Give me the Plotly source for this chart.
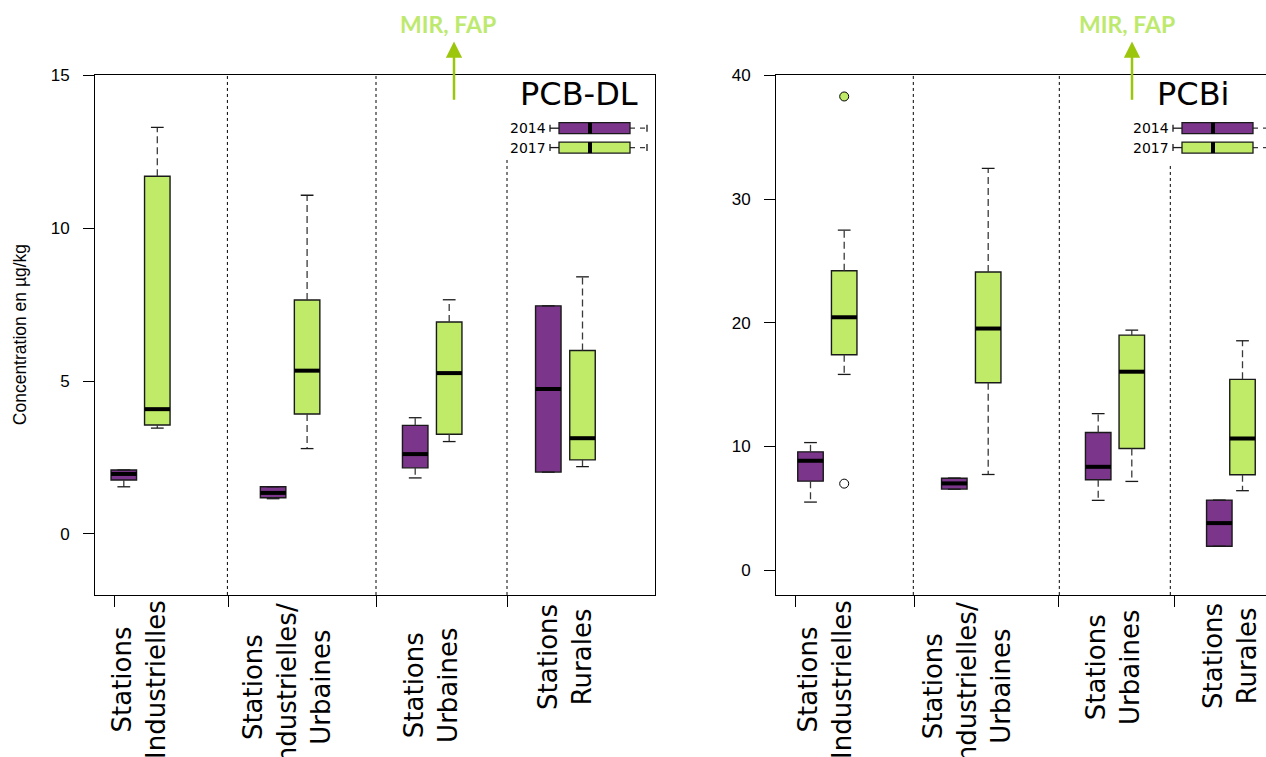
import plotly.graph_objects as go

W, H = 1266, 757
PURPLE = "#7B358A"
GREEN = "#BFEB69"
EDGE = "#1a1a1a"

# ---------------- data ----------------
group_labels = ["Stations<br>Industrielles",
                "Stations<br>Industrielles/<br>Urbaines",
                "Stations<br>Urbaines",
                "Stations<br>Rurales"]
years = ["2014", "2017"]
panel_titles = ["PCB-DL", "PCBi"]
y_title = "Concentration en µg/kg"
note_text = "MIR, FAP"

left_yticks = [0, 5, 10, 15]
right_yticks = [0, 10, 20, 30, 40]

# PCB-DL (µg/kg) : box statistics per station type
dl_2014_low = [1.54, 1.15, 1.83, 2.02]
dl_2014_q1 = [1.76, 1.18, 2.16, 2.02]
dl_2014_med = [1.96, 1.34, 2.61, 4.74]
dl_2014_q3 = [2.09, 1.54, 3.55, 7.46]
dl_2014_high = [2.09, 1.54, 3.80, 7.46]

dl_2017_low = [3.46, 2.79, 3.02, 2.20]
dl_2017_q1 = [3.56, 3.92, 3.26, 2.42]
dl_2017_med = [4.08, 5.34, 5.26, 3.13]
dl_2017_q3 = [11.70, 7.65, 6.93, 6.00]
dl_2017_high = [13.30, 11.08, 7.66, 8.41]

# PCBi (µg/kg)
i_2014_low = [5.51, 6.55, 5.65, 1.94]
i_2014_q1 = [7.20, 6.56, 7.31, 1.94]
i_2014_med = [8.85, 7.02, 8.36, 3.81]
i_2014_q3 = [9.57, 7.44, 11.13, 5.67]
i_2014_high = [10.32, 7.45, 12.66, 5.67]

i_2017_low = [15.83, 7.74, 7.18, 6.43]
i_2017_q1 = [17.42, 15.16, 9.84, 7.72]
i_2017_med = [20.45, 19.54, 16.05, 10.65]
i_2017_q3 = [24.21, 24.11, 19.01, 15.43]
i_2017_high = [27.49, 32.48, 19.41, 18.55]

i_2017_outlier_group = [0, 0]
i_2017_outlier_vals = [38.3, 7.0]

# ---------------- layout constants (positions on each panel's x scale) ----------------
BW = 2.55  # box width
POS = {
    "left": {"2014": [2.88, 17.81, 32.02, 45.33], "2017": [6.23, 21.21, 35.42, 48.75],
             "sep": [13.24, 28.1, 41.2], "ticks": [1.9, 13.3, 28.1, 41.2]},
    "right": {"2014": [3.45, 17.83, 32.22, 44.33], "2017": [6.82, 21.22, 35.58, 46.65],
              "sep": [13.73, 28.33, 39.43], "ticks": [1.9, 13.8, 28.2, 39.8]},
}

# vertical calibration of the page (observed offset / scale of the captured page)
VA, VB = 8.5, 0.989


def P(x):
    return x / W


def Q(y):
    return 1 - ((y - VA) / VB) / H


fig = go.Figure()
shapes = []
annotations = []


def add_series(xa, ya, pos, low, q1, med, q3, high, color):
    fig.add_trace(go.Box(
        x=pos, q1=q1, median=med, q3=q3, lowerfence=q1, upperfence=q3,
        orientation="v", width=BW, fillcolor=color, whiskerwidth=0,
        line=dict(color=EDGE, width=1.4), boxpoints=False,
        xaxis=xa, yaxis=ya, showlegend=False, hoverinfo="skip"))
    wx, wy = [], []
    for p, lo, a, b, hi in zip(pos, low, q1, q3, high):
        if hi > b:
            wx += [p, p, None]
            wy += [b, hi, None]
        if lo < a:
            wx += [p, p, None]
            wy += [a, lo, None]
    fig.add_trace(go.Scatter(x=wx, y=wy, mode="lines", xaxis=xa, yaxis=ya,
                             line=dict(color="#3a3a3a", width=1.3, dash="7px,4px"),
                             showlegend=False, hoverinfo="skip"))
    cx, cy = [], []
    cw = BW / 4
    for p, lo, hi in zip(pos, low, high):
        cx += [p - cw, p + cw, None, p - cw, p + cw, None]
        cy += [hi, hi, None, lo, lo, None]
    fig.add_trace(go.Scatter(x=cx, y=cy, mode="lines", xaxis=xa, yaxis=ya,
                             line=dict(color=EDGE, width=1.3),
                             showlegend=False, hoverinfo="skip"))
    mx, my = [], []
    for p, m in zip(pos, med):
        mx += [p - BW / 2, p + BW / 2, None]
        my += [m, m, None]
    fig.add_trace(go.Scatter(x=mx, y=my, mode="lines", xaxis=xa, yaxis=ya,
                             line=dict(color="black", width=4),
                             showlegend=False, hoverinfo="skip"))


add_series("x", "y", POS["left"]["2014"], dl_2014_low, dl_2014_q1, dl_2014_med, dl_2014_q3, dl_2014_high, PURPLE)
add_series("x", "y", POS["left"]["2017"], dl_2017_low, dl_2017_q1, dl_2017_med, dl_2017_q3, dl_2017_high, GREEN)
add_series("x2", "y2", POS["right"]["2014"], i_2014_low, i_2014_q1, i_2014_med, i_2014_q3, i_2014_high, PURPLE)
add_series("x2", "y2", POS["right"]["2017"], i_2017_low, i_2017_q1, i_2017_med, i_2017_q3, i_2017_high, GREEN)

fig.add_trace(go.Scatter(
    x=[POS["right"]["2017"][g] for g in i_2017_outlier_group], y=i_2017_outlier_vals,
    mode="markers", xaxis="x2", yaxis="y2",
    marker=dict(size=9, color=[GREEN, "white"], line=dict(color="black", width=1)),
    showlegend=False, hoverinfo="skip"))

for xa, ya, key, top_px in [("x", "y", "left", 157), ("x2", "y2", "right", 163)]:
    seps = POS[key]["sep"]
    for i, s in enumerate(seps):
        y1 = 1 if i < len(seps) - 1 else (595 - top_px) / (595 - 75)
        shapes.append(dict(type="line", xref=xa, yref=ya + " domain", x0=s, x1=s, y0=0, y1=y1,
                           line=dict(color="black", width=1, dash="dot")))

label_centers = {"left": [(139, 680), (287, 687), (431, 686), (565, 657)],
                 "right": [(825, 680), (967, 686), (1113, 668), (1230, 656)]}
for key in ["left", "right"]:
    for lab, (cx, cy) in zip(group_labels, label_centers[key]):
        annotations.append(dict(text=lab, x=P(cx), y=Q(cy), xref="paper", yref="paper",
                                textangle=-90, showarrow=False, align="center",
                                xanchor="center", yanchor="middle",
                                font=dict(family="DejaVu Sans", size=26, color="black")))

for title, dx, tx in [(panel_titles[0], 0, 578.5), (panel_titles[1], 623, 1192.5)]:
    annotations.append(dict(text=title, x=P(tx), y=Q(94), xref="paper", yref="paper",
                            showarrow=False, xanchor="center", yanchor="middle",
                            font=dict(family="DejaVu Sans", size=32, color="black")))
    for yr, col, yc in [(years[0], PURPLE, 127.8), (years[1], GREEN, 147.2)]:
        annotations.append(dict(text=yr, x=P(548 + dx), y=Q(yc), xref="paper", yref="paper",
                                showarrow=False, xanchor="right", yanchor="middle",
                                font=dict(family="DejaVu Sans", size=14, color="black")))
        ln = dict(color=EDGE, width=1.3)
        shapes += [
            dict(type="line", xref="paper", yref="paper", x0=P(550 + dx), x1=P(550 + dx),
                 y0=Q(yc - 3.5), y1=Q(yc + 3.5), line=ln),
            dict(type="line", xref="paper", yref="paper", x0=P(550 + dx), x1=P(559 + dx),
                 y0=Q(yc), y1=Q(yc), line=ln),
            dict(type="line", xref="paper", yref="paper", x0=P(630 + dx), x1=P(647 + dx),
                 y0=Q(yc), y1=Q(yc), line=dict(color="#3a3a3a", width=1.3, dash="5px,5px")),
            dict(type="line", xref="paper", yref="paper", x0=P(647 + dx), x1=P(647 + dx),
                 y0=Q(yc - 3.5), y1=Q(yc + 3.5), line=ln),
            dict(type="rect", xref="paper", yref="paper", x0=P(559 + dx), x1=P(630 + dx),
                 y0=Q(yc - 5.5), y1=Q(yc + 5.5), fillcolor=col, line=ln),
            dict(type="line", xref="paper", yref="paper", x0=P(590 + dx), x1=P(590 + dx),
                 y0=Q(yc - 5.5), y1=Q(yc + 5.5), line=dict(color="black", width=4)),
        ]

for tx, axx in [(448, 454), (1126.5, 1132)]:
    annotations.append(dict(text=note_text, x=P(tx), y=Q(24), xref="paper", yref="paper",
                            showarrow=False, xanchor="center", yanchor="middle",
                            font=dict(family="Lato", size=23, color="#BDE96E", weight="bold")))
    annotations.append(dict(text="", x=P(axx), y=Q(41), xref="paper", yref="paper",
                            showarrow=True, axref="pixel", ayref="pixel", ax=0, ay=59 / VB,
                            arrowhead=2, arrowsize=1.3, arrowwidth=2.5, arrowcolor="#9CC60C",
                            standoff=0, startstandoff=0))

annotations.append(dict(text=y_title, x=P(20), y=Q(335), xref="paper", yref="paper",
                        textangle=-90, showarrow=False, xanchor="center", yanchor="middle",
                        font=dict(family="Liberation Sans", size=17.5, color="black")))

axis_common = dict(showgrid=False, zeroline=False, showline=True, linecolor="black", linewidth=1,
                   ticks="outside", tickcolor="black", ticklen=11, tickwidth=1)
ydom = [Q(595), Q(75)]

fig.update_layout(
    width=W, height=H, margin=dict(l=0, r=0, t=0, b=0),
    paper_bgcolor="white", plot_bgcolor="white", boxmode="overlay", showlegend=False,
    xaxis=dict(domain=[P(95), P(655)], range=[0, 56], tickvals=POS["left"]["ticks"],
               showticklabels=False, mirror=True, anchor="y", **axis_common),
    yaxis=dict(domain=ydom, range=[-2, 15], tickvals=left_yticks, mirror=True, anchor="x",
               tickfont=dict(family="Liberation Sans", size=17, color="black"),
               ticklabelstandoff=10, **axis_common),
    xaxis2=dict(domain=[P(776), 1], range=[0, 49.0], tickvals=POS["right"]["ticks"],
                showticklabels=False, mirror=True, anchor="y2", **axis_common),
    yaxis2=dict(domain=ydom, range=[-2, 40], tickvals=right_yticks, mirror=False, anchor="x2",
                tickfont=dict(family="Liberation Sans", size=17, color="black"),
                ticklabelstandoff=10, **axis_common),
    shapes=shapes, annotations=annotations,
)

fig.write_html("out.html")
